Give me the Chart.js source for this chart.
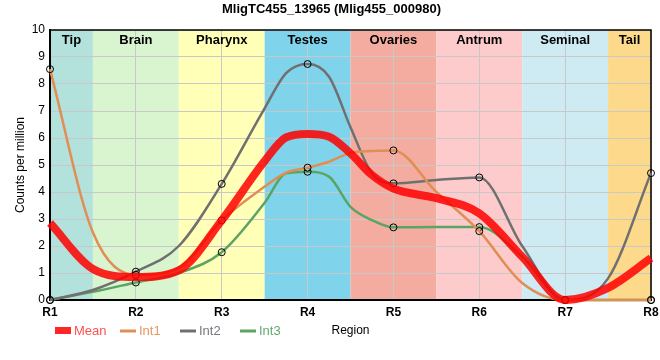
<!DOCTYPE html>
<html>
<head>
<meta charset="utf-8">
<script src="https://cdn.jsdelivr.net/npm/chart.js@4.4.1/dist/chart.umd.min.js"></script>
<style>
  html, body { margin: 0; padding: 0; background: #fff; }
  #wrap { width: 660px; height: 360px; }
</style>
</head>
<body>
<div id="wrap"><canvas id="regionChart"></canvas></div>
<script>
// Regions along the body (x axis) and the sampled positions of the curves
const regionLabels = ["R1", "R2", "R3", "R4", "R5", "R6", "R7", "R8"];
const positions = [1, 1.5, 2, 2.5, 3, 3.5, 3.75, 4, 4.25, 4.5, 4.75, 5, 5.5, 6, 6.5, 7, 7.5, 8];

// Counts per million
const meanValues = [2.85, 1.15, 0.85, 1.1, 2.95, 5.15, 6.02, 6.15, 6.05, 5.43, 4.63, 4.13, 3.77, 3.21, 1.6, 0, 0.45, 1.55];
const int1Values = [8.55, 2.5, 0.93, 1.2, 2.95, 4.2, 4.72, 4.9, 5.12, 5.45, 5.52, 5.54, 4.0, 2.55, 0.63, 0, 0, 0];
const int2Values = [0, 0.37, 1.05, 2.0, 4.3, 7.1, 8.4, 8.74, 8.27, 6.4, 4.69, 4.32, 4.44, 4.54, 2.0, 0, 0.8, 4.7];
const int3Values = [0, 0.3, 0.65, 1.0, 1.77, 3.6, 4.69, 4.75, 4.57, 3.45, 2.96, 2.69, 2.7, 2.7, 1.6, 0, 0, 0];

// Anatomical bands behind the curves
const bandNames = ["Tip", "Brain", "Pharynx", "Testes", "Ovaries", "Antrum", "Seminal", "Tail"];
const bandFrom = [1, 1.5, 2.5, 3.5, 4.5, 5.5, 6.5, 7.5];
const bandTo = [1.5, 2.5, 3.5, 4.5, 5.5, 6.5, 7.5, 8];
const bandColors = ["#b3e2dd", "#d8f5cf", "#ffffb8", "#7fd4ec", "#f5aca0", "#fdcbcb", "#ceebf4", "#fdd98c"];

const seriesNames = ["Mean", "Int1", "Int2", "Int3"];
const seriesColors = ["rgba(255,0,0,0.85)", "rgb(224,142,84)", "rgb(112,112,112)", "rgb(92,164,100)"];
const legendColors = ["rgba(255,60,60,0.9)", "rgb(232,150,100)", "rgb(120,120,130)", "rgb(100,170,115)"];

const FONT = "'Liberation Sans', Arial, sans-serif";

function toPoints(values) {
    return values.map((v, i) => ({ x: positions[i], y: v }));
}

// Colored region bands + their names
const bandPlugin = {
    id: "bands",
    beforeDraw(chart) {
        const { ctx, chartArea, scales } = chart;
        ctx.save();
        bandNames.forEach((name, i) => {
            const x0 = scales.x.getPixelForValue(bandFrom[i]);
            const x1 = scales.x.getPixelForValue(bandTo[i]);
            ctx.fillStyle = bandColors[i];
            ctx.fillRect(x0, chartArea.top, x1 - x0, chartArea.bottom - chartArea.top);
        });
        ctx.restore();
    },
    beforeDatasetsDraw(chart) {
        const { ctx, chartArea, scales } = chart;
        ctx.save();
        ctx.font = "bold 13px 'Liberation Sans Narrow', 'Liberation Sans', Arial, sans-serif";
        ctx.fillStyle = "#000";
        ctx.textAlign = "center";
        ctx.textBaseline = "middle";
        bandNames.forEach((name, i) => {
            const x0 = scales.x.getPixelForValue(bandFrom[i]);
            const x1 = scales.x.getPixelForValue(bandTo[i]);
            ctx.fillText(name, (x0 + x1) / 2, chartArea.top + 10);
        });
        // top and right frame lines
        ctx.strokeStyle = "#000";
        ctx.lineWidth = 1.5;
        ctx.beginPath();
        ctx.moveTo(chartArea.left, chartArea.top);
        ctx.lineTo(chartArea.right, chartArea.top);
        ctx.lineTo(chartArea.right, chartArea.bottom);
        ctx.stroke();
        ctx.restore();
    }
};

// Legend row under the axis, next to the "Region" title
const legendPlugin = {
    id: "rowLegend",
    afterDraw(chart) {
        const { ctx } = chart;
        const slots = [55, 120, 180, 240];
        const y = 331;
        ctx.save();
        ctx.font = "13px " + FONT;
        ctx.textBaseline = "middle";
        ctx.textAlign = "left";
        seriesNames.forEach((name, i) => {
            const x = slots[i];
            if (i === 0) {
                ctx.fillStyle = seriesColors[0];
                ctx.fillRect(x, y - 4, 16, 7);
            } else {
                ctx.strokeStyle = seriesColors[i];
                ctx.lineWidth = 3;
                ctx.beginPath();
                ctx.moveTo(x, y);
                ctx.lineTo(x + 16, y);
                ctx.stroke();
            }
            ctx.fillStyle = legendColors[i];
            ctx.fillText(name, x + 19, y);
        });
        ctx.restore();
    }
};

function lineDataset(idx, values, width) {
    return {
        label: seriesNames[idx],
        data: toPoints(values),
        borderColor: seriesColors[idx],
        backgroundColor: seriesColors[idx],
        borderWidth: width,
        fill: false,
        cubicInterpolationMode: "monotone",
        clip: false,
        pointRadius: idx === 0 ? 0 : (c => Number.isInteger(c.raw.x) ? 3.5 : 0),
        pointBorderColor: "#000",
        pointBorderWidth: 1,
        pointBackgroundColor: "rgba(0,0,0,0)"
    };
}

const ctx = document.getElementById("regionChart").getContext("2d");
new Chart(ctx, {
    type: "line",
    data: {
        datasets: [
            lineDataset(0, meanValues, 8),
            lineDataset(1, int1Values, 2.5),
            lineDataset(2, int2Values, 2.5),
            lineDataset(3, int3Values, 2.5)
        ]
    },
    options: {
        responsive: true,
        maintainAspectRatio: false,
        animation: false,
        events: [],
        layout: { padding: { left: 12, right: 9, top: 0, bottom: 20 } },
        plugins: {
            legend: { display: false },
            tooltip: { enabled: false },
            title: {
                display: true,
                text: "MligTC455_13965 (Mlig455_000980)",
                color: "#000",
                font: { family: FONT, size: 13, weight: "bold" },
                padding: { top: 2, bottom: 12.4 }
            }
        },
        scales: {
            x: {
                type: "linear",
                min: 1,
                max: 8,
                afterFit: s => {
                    s.height = 40;
                    s.paddingLeft = 0;
                    s.paddingRight = 0;
                },
                ticks: {
                    stepSize: 1,
                    padding: 5,
                    color: "#000",
                    font: { family: FONT, size: 12, weight: "bold" },
                    callback: v => regionLabels[v - 1]
                },
                grid: { color: "#c8c8c8", drawTicks: false },
                border: { color: "#000", width: 2 },
                title: {
                    display: true,
                    text: "Region",
                    color: "#000",
                    font: { family: FONT, size: 12 },
                    padding: { top: 0, bottom: 2 }
                }
            },
            y: {
                min: 0,
                max: 10,
                afterFit: s => { s.width = 38; },
                ticks: {
                    stepSize: 1,
                    padding: 5,
                    color: "#000",
                    font: { family: FONT, size: 12 }
                },
                grid: { color: "#c8c8c8", drawTicks: false },
                border: { color: "#000", width: 2 },
                title: {
                    display: true,
                    text: "Counts per million",
                    color: "#000",
                    font: { family: FONT, size: 12 },
                    padding: { top: 1, bottom: 0 }
                }
            }
        }
    },
    plugins: [bandPlugin, legendPlugin]
});
</script>
</body>
</html>
